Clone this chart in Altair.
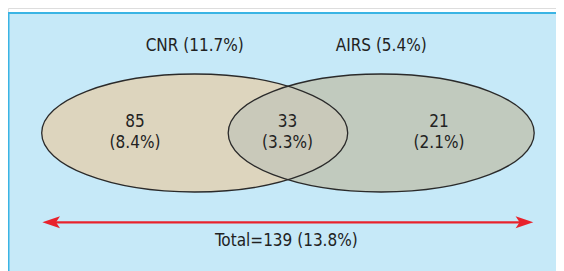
import math
import altair as alt
import pandas as pd

# ---- data ----
set_names = ["CNR", "AIRS"]
set_pcts = [11.7, 5.4]
region_counts = [85, 33, 21]
region_pcts = [8.4, 3.3, 2.1]
total_count = 139
total_pct = 13.8

# ---- layout (chart pixel space) ----
W, H = 548, 263
ell_cx = [186.7, 373.2]
ell_cy = 125.0
ell_rx, ell_ry = 153.0, 59.0
set_label_y = 38.0
region_x = [127.0, 279.5, 431.0]
count_y = 113.7
pct_y = 135.3
arrow_x = [34.3, 525.3]
arrow_y = 214.3
arrow_len = 17.7
total_y = 232.7

FONT = "DejaVu Sans Condensed"
FS = 17
TXT = "#222222"
ell_fill = ["#DDD5BE", "#C1CABE"]
lens_fill = "#C9C9BA"

xs = alt.Scale(domain=[0, W], nice=False, zero=False)
ys = alt.Scale(domain=[0, H], nice=False, zero=False, reverse=True)

def X(f):
    return alt.X(f, type="quantitative", scale=xs, axis=None)

def Y(f):
    return alt.Y(f, type="quantitative", scale=ys, axis=None)

# background panel
panel_df = pd.DataFrame({"x": [0.5], "x2": [W + 20], "y": [5.0], "y2": [H + 20]})
panel = alt.Chart(panel_df).mark_rect(
    fill="#C6E9F8", stroke="#3AB4E4", strokeWidth=2
).encode(x=X("x"), x2="x2", y=Y("y"), y2="y2")

# ellipses via custom symbol path (unit = rx)
k = ell_ry / ell_rx
ell_path = f"M -1 0 A 1 {k:.4f} 0 1 1 1 0 A 1 {k:.4f} 0 1 1 -1 0 Z"
ell_size = (2 * ell_rx) ** 2
ell_df = pd.DataFrame({"name": set_names, "x": ell_cx, "y": [ell_cy, ell_cy], "fill": ell_fill})

ell_fill_layer = alt.Chart(ell_df).mark_point(
    shape=ell_path, filled=True, opacity=1, size=ell_size, strokeWidth=0
).encode(x=X("x"), y=Y("y"), fill=alt.Fill("fill:N", scale=None))

# overlap lens
mid_x = (ell_cx[0] + ell_cx[1]) / 2
half_d = (ell_cx[1] - ell_cx[0]) / 2
iy = k * math.sqrt(1 - (half_d / ell_rx) ** 2)
lens_path = (f"M 0 {-iy:.4f} A 1 {k:.4f} 0 0 1 0 {iy:.4f} "
             f"A 1 {k:.4f} 0 0 1 0 {-iy:.4f} Z")
lens_df = pd.DataFrame({"x": [mid_x], "y": [ell_cy]})
lens_layer = alt.Chart(lens_df).mark_point(
    shape=lens_path, filled=True, opacity=1, size=ell_size, strokeWidth=0, color=lens_fill
).encode(x=X("x"), y=Y("y"))

ell_stroke_layer = alt.Chart(ell_df).mark_point(
    shape=ell_path, filled=False, opacity=1, size=ell_size,
    stroke="#2a2a2a", strokeWidth=1.3
).encode(x=X("x"), y=Y("y"))

# set labels
set_df = pd.DataFrame({
    "x": ell_cx, "y": [set_label_y] * 2,
    "t": [f"{n} ({p}%)" for n, p in zip(set_names, set_pcts)],
})
set_text = alt.Chart(set_df).mark_text(
    font=FONT, fontSize=FS, color=TXT, baseline="middle", align="center"
).encode(x=X("x"), y=Y("y"), text="t:N")

# region labels
reg_df = pd.DataFrame({
    "x": region_x,
    "yc": [count_y] * 3,
    "yp": [pct_y] * 3,
    "c": [str(c) for c in region_counts],
    "p": [f"({p}%)" for p in region_pcts],
})
count_text = alt.Chart(reg_df).mark_text(
    font=FONT, fontSize=FS, color=TXT, baseline="middle", align="center"
).encode(x=X("x"), y=Y("yc"), text="c:N")
pct_text = alt.Chart(reg_df).mark_text(
    font=FONT, fontSize=FS, color=TXT, baseline="middle", align="center"
).encode(x=X("x"), y=Y("yp"), text="p:N")

# arrow
RED = "#E8222C"
line_df = pd.DataFrame({"x": [arrow_x[0] + 6], "x2": [arrow_x[1] - 6], "y": [arrow_y]})
arrow_line = alt.Chart(line_df).mark_rule(color=RED, strokeWidth=2.2).encode(
    x=X("x"), x2="x2", y=Y("y"))

head_path = "M 1 0 L -1 -0.68 L -0.55 0 L -1 0.68 Z"
heads_df = pd.DataFrame({
    "x": [arrow_x[0] + arrow_len / 2, arrow_x[1] - arrow_len / 2],
    "y": [arrow_y, arrow_y],
    "a": [180, 0],
})
heads = alt.Chart(heads_df).mark_point(
    shape=head_path, filled=True, opacity=1, size=arrow_len ** 2, color=RED, strokeWidth=0
).encode(x=X("x"), y=Y("y"), angle=alt.Angle("a:Q", scale=None))

# total label
tot_df = pd.DataFrame({"x": [(arrow_x[0] + arrow_x[1]) / 2 - 1.5], "y": [total_y],
                       "t": [f"Total={total_count} ({total_pct}%)"]})
tot_text = alt.Chart(tot_df).mark_text(
    font=FONT, fontSize=FS, color=TXT, baseline="middle", align="center"
).encode(x=X("x"), y=Y("y"), text="t:N")

chart = alt.layer(
    panel, ell_fill_layer, lens_layer, ell_stroke_layer, set_text, count_text, pct_text,
    arrow_line, heads, tot_text
).properties(
    width=W, height=H, padding=0, autosize=alt.AutoSizeParams(type="none")
).configure_view(stroke=None).configure(background="white")

chart.save("out.html", embed_options={"renderer": "svg", "actions": False})
